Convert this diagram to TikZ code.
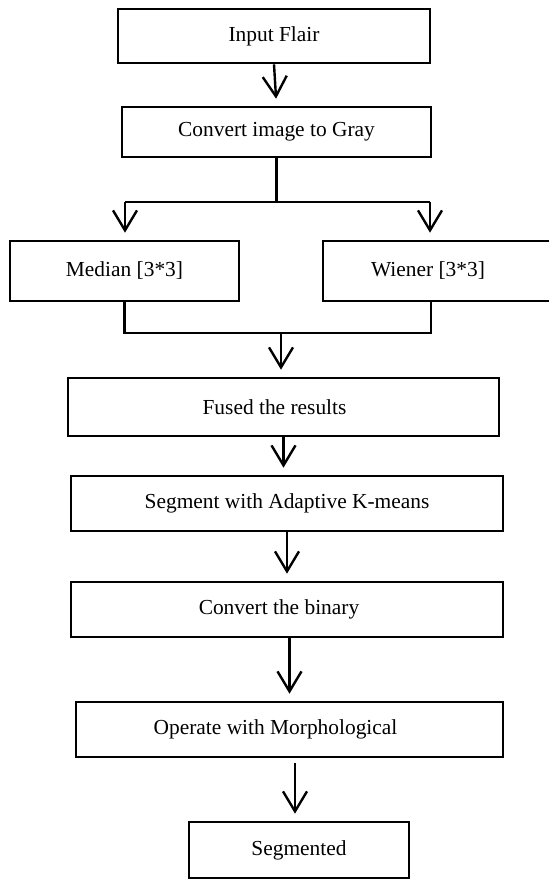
\documentclass[tikz,border=0pt]{standalone}
\usepackage{fontspec}
\setmainfont{Liberation Serif}
\usepackage{tikz}
\usetikzlibrary{positioning,arrows.meta}
\tikzset{
  box/.style={draw=black,line width=1.3pt,fill=white,align=center,inner sep=0pt,
              font=\fontsize{10.7}{13}\selectfont},
  arr/.style={-{Straight Barb[length=10pt,width=12pt]},line width=1.2pt,shorten >=3.5pt},
  ln/.style={line width=1.2pt}
}

\begin{document}
\begin{tikzpicture}[x=0.5pt,y=-0.5pt]
  \useasboundingbox (0,0) rectangle (549,879);
  \clip (0,0) rectangle (549,879);
  \node[box,minimum width=156pt,minimum height=27pt] (input) at (274,36) {Input Flair};
  \node[box,minimum width=154.5pt,minimum height=25pt] (gray) at (276.5,132) {Convert image to Gray};
  \node[box,minimum width=114.5pt,minimum height=30pt] (median) at (124.5,271) {Median [3*3]};
  \node[box,minimum width=117pt,minimum height=30pt] (wiener) at (440,271) {Wiener [3*3]\hspace*{12pt}};
  \node[box,minimum width=215.5pt,minimum height=29pt] (fused) at (283.5,407) {Fused the results\hspace*{9pt}};
  \node[box,minimum width=216pt,minimum height=27.5pt] (segment) at (287,503.5) {Segment with Adaptive K-means};
  \node[box,minimum width=216pt,minimum height=27.5pt] (binary) at (287,609.5) {Convert the binary\hspace*{8pt}};
  \node[box,minimum width=213.5pt,minimum height=27.5pt] (morph) at (289.5,729.5) {Operate with Morphological\hspace*{14pt}};
  \node[box,minimum width=110pt,minimum height=28pt] (segmented) at (299,850) {Segmented};

  \coordinate (split) at (276.5,202);
  \coordinate (fl) at (125,202);
  \coordinate (fr) at (430,202);
  \coordinate (ml) at (124.5,333);
  \coordinate (mr) at (431,333);
  \coordinate (mj) at (281,333);

  \draw[arr] (input.south) -- (gray.north);
  \draw[ln] (gray.south) -- (split);
  \draw[ln] (fl) -- (fr);
  \draw[arr] (fl) -- (fl |- median.north);
  \draw[arr] (fr) -- (fr |- wiener.north);
  \draw[ln] (median.south) -- (ml) -- (mr) -- (mr |- wiener.south);
  \draw[arr] (mj) -- (mj |- fused.north);
  \draw[arr] (fused.south) -- (fused.south |- segment.north);
  \draw[arr] (segment.south) -- (binary.north);
  \draw[arr] (morph.north |- binary.south) -- (morph.north);
  \draw[arr,shorten <=2.5pt] ([xshift=-2pt]segmented.north |- morph.south) -- ([xshift=-2pt]segmented.north);
\end{tikzpicture}
\end{document}
